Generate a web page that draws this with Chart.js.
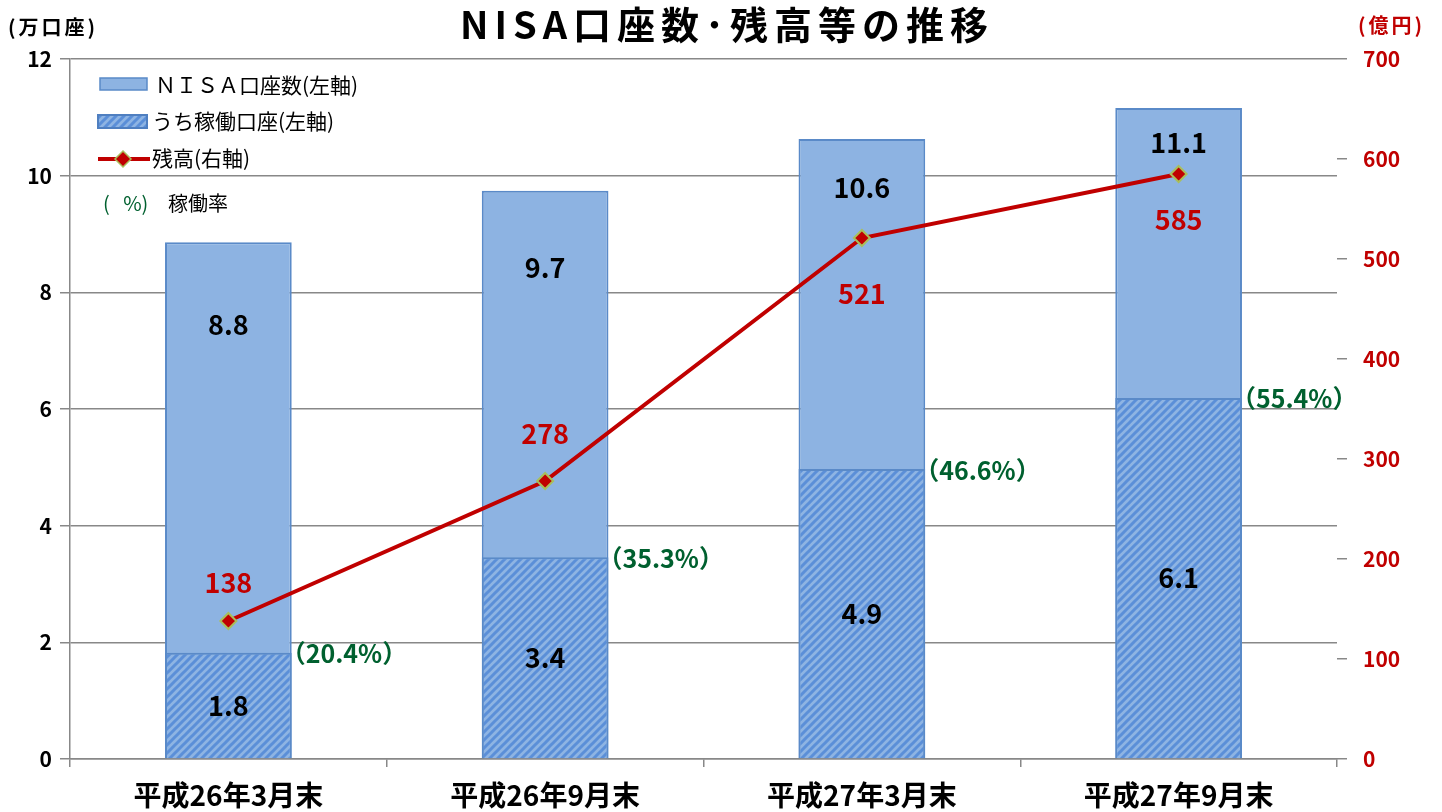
<!DOCTYPE html>
<html lang="ja">
<head>
<meta charset="utf-8">
<script src="https://cdn.jsdelivr.net/npm/chart.js@4.4.1/dist/chart.umd.min.js"></script>
<style>
  body { margin: 0; background: #fff; }
  #wrap { width: 1442px; height: 812px; }
</style>
</head>
<body>
<div id="wrap"><canvas id="nisaChart"></canvas></div>
<script>
// データ
const categories = ["平成26年3月末", "平成26年9月末", "平成27年3月末", "平成27年9月末"];
const accounts = [8.86, 9.74, 10.63, 11.16];      // NISA口座数 (万口座)
const activeAccounts = [1.82, 3.46, 4.97, 6.19];  // うち稼働口座 (万口座)
const balance = [138, 278, 521, 585];             // 残高 (億円)
const activeRate = [20.4, 35.3, 46.6, 55.4];      // 稼働率 (%)

const FONT = '"Noto Sans CJK JP", "Noto Sans", sans-serif';
const RED = "#c00000";
const GREEN = "#00602f";
const BAR_FILL = "#8db3e2";
const BAR_EDGE = "#5a8ac8";

// hatch pattern for the active accounts bars
function makeHatch() {
  const c = document.createElement("canvas");
  c.width = 8;
  c.height = 8;
  const g = c.getContext("2d");
  g.fillStyle = "#8eb4e3";
  g.fillRect(0, 0, 8, 8);
  g.strokeStyle = "#5b8fd8";
  g.lineWidth = 3;
  g.beginPath();
  g.moveTo(-2, 10); g.lineTo(10, -2);
  g.moveTo(-2, 2); g.lineTo(2, -2);
  g.moveTo(6, 10); g.lineTo(10, 6);
  g.stroke();
  return g.createPattern(c, "repeat");
}
const hatch = makeHatch();

const oneDecimal = (v) => (Math.floor(v * 10) / 10).toFixed(1);

// label offsets (px) as placed in the original
const totalLabelOffset = [83, 77, 49, 35];
const lineLabelOffset = [-38, -47, 56, 46];

function text(ctx, str, x, y, font, color, align, spacing) {
  ctx.save();
  ctx.font = font;
  ctx.fillStyle = color;
  ctx.textAlign = align || "center";
  ctx.textBaseline = "middle";
  if (spacing) ctx.letterSpacing = spacing + "px";
  ctx.fillText(str, x, y);
  ctx.restore();
}

const extras = {
  id: "extras",
  afterDatasetsDraw(chart) {
    const ctx = chart.ctx;
    const totalMeta = chart.getDatasetMeta(0);
    const activeMeta = chart.getDatasetMeta(1);
    const lineMeta = chart.getDatasetMeta(2);

    totalMeta.data.forEach((el, i) => {
      text(ctx, oneDecimal(accounts[i]), el.x, el.y + totalLabelOffset[i], "bold 27px " + FONT, "#000");
    });
    activeMeta.data.forEach((el, i) => {
      text(ctx, oneDecimal(activeAccounts[i]), el.x, (el.y + el.base) / 2, "bold 27px " + FONT, "#000");
      text(ctx, "（" + activeRate[i].toFixed(1) + "%）", el.x + el.width / 2 - 11, el.y + 1, "bold 25px " + FONT, GREEN, "left");
    });
    lineMeta.data.forEach((el, i) => {
      text(ctx, String(balance[i]), el.x, el.y + lineLabelOffset[i], "bold 27px " + FONT, RED);
    });
  },
  afterDraw(chart) {
    const ctx = chart.ctx;
    // title and units
    text(ctx, "NISA口座数･残高等の推移", 727, 25, "bold 38px " + FONT, "#000", "center", 6);
    text(ctx, "(万口座)", 8, 27, "bold 20px " + FONT, "#000", "left", 3);
    text(ctx, "(億円)", 1358, 25, "bold 20px " + FONT, RED, "left", 3);

    // legend
    ctx.save();
    ctx.fillStyle = BAR_FILL;
    ctx.fillRect(100, 78, 47, 12);
    ctx.strokeStyle = BAR_EDGE;
    ctx.lineWidth = 1.5;
    ctx.strokeRect(100, 78, 47, 12);

    ctx.fillStyle = hatch;
    ctx.fillRect(98, 115, 49, 13);
    ctx.strokeStyle = "#4f7fc0";
    ctx.lineWidth = 2;
    ctx.strokeRect(98, 115, 49, 13);

    ctx.strokeStyle = RED;
    ctx.lineWidth = 4;
    ctx.beginPath();
    ctx.moveTo(98, 159);
    ctx.lineTo(150, 159);
    ctx.stroke();
    ctx.beginPath();
    ctx.moveTo(123, 151); ctx.lineTo(131, 159); ctx.lineTo(123, 167); ctx.lineTo(115, 159);
    ctx.closePath();
    ctx.fillStyle = RED;
    ctx.fill();
    ctx.strokeStyle = "#a9bf5a";
    ctx.lineWidth = 1.5;
    ctx.stroke();
    ctx.restore();

    text(ctx, "ＮＩＳＡ口座数(左軸)", 155, 85, "21px " + FONT, "#000", "left");
    text(ctx, "うち稼働口座(左軸)", 152, 121, "21px " + FONT, "#000", "left");
    text(ctx, "残高(右軸)", 152, 158, "21px " + FONT, "#000", "left");
    text(ctx, "(   %)", 103, 203, "20px " + FONT, GREEN, "left");
    text(ctx, "稼働率", 168, 203, "20px " + FONT, "#000", "left");
  },
};

const ctx = document.getElementById("nisaChart");
new Chart(ctx, {
  data: {
    labels: categories,
    datasets: [
      {
        type: "bar",
        label: "ＮＩＳＡ口座数(左軸)",
        data: accounts,
        backgroundColor: BAR_FILL,
        borderColor: BAR_EDGE,
        borderWidth: 2,
        grouped: false,
        barPercentage: 0.4,
        categoryPercentage: 1,
        yAxisID: "y",
        order: 3,
      },
      {
        type: "bar",
        label: "うち稼働口座(左軸)",
        data: activeAccounts,
        backgroundColor: hatch,
        borderColor: BAR_EDGE,
        borderWidth: 2,
        grouped: false,
        barPercentage: 0.4,
        categoryPercentage: 1,
        yAxisID: "y",
        order: 2,
      },
      {
        type: "line",
        label: "残高(右軸)",
        data: balance,
        borderColor: RED,
        borderWidth: 4,
        pointStyle: "rectRot",
        pointRadius: 8,
        pointBackgroundColor: RED,
        pointBorderColor: "#a9bf5a",
        pointBorderWidth: 2,
        tension: 0,
        yAxisID: "y1",
        order: 1,
      },
    ],
  },
  options: {
    responsive: true,
    maintainAspectRatio: false,
    animation: false,
    devicePixelRatio: 1,
    layout: { padding: { top: 59, left: 0, right: 0, bottom: 0 } },
    plugins: {
      legend: { display: false },
      title: { display: false },
      tooltip: { enabled: false },
    },
    scales: {
      x: {
        offset: true,
        grid: {
          offset: true,
          drawOnChartArea: false,
          tickLength: 8,
          color: "#888",
          lineWidth: 1.5,
        },
        border: { color: "#888", width: 1.5 },
        ticks: {
          color: "#000",
          font: { family: FONT, size: 28, weight: "bold" },
          padding: 12,
        },
        afterFit(scale) { scale.height = 53; },
      },
      y: {
        position: "left",
        min: 0,
        max: 12,
        ticks: {
          stepSize: 2,
          color: "#000",
          font: { family: FONT, size: 21, weight: "bold" },
          padding: 8,
        },
        grid: { color: "#888", lineWidth: 1.5, tickLength: 10 },
        border: { color: "#888", width: 1.5 },
        afterFit(scale) { scale.width = 70; },
      },
      y1: {
        position: "right",
        min: 0,
        max: 700,
        ticks: {
          stepSize: 100,
          color: RED,
          font: { family: FONT, size: 21, weight: "bold" },
          padding: 16,
        },
        grid: { drawOnChartArea: false, color: "#888", lineWidth: 1.5, tickLength: 10 },
        border: { display: false },
        afterFit(scale) { scale.width = 105; },
      },
    },
  },
  plugins: [extras],
});
</script>
</body>
</html>
